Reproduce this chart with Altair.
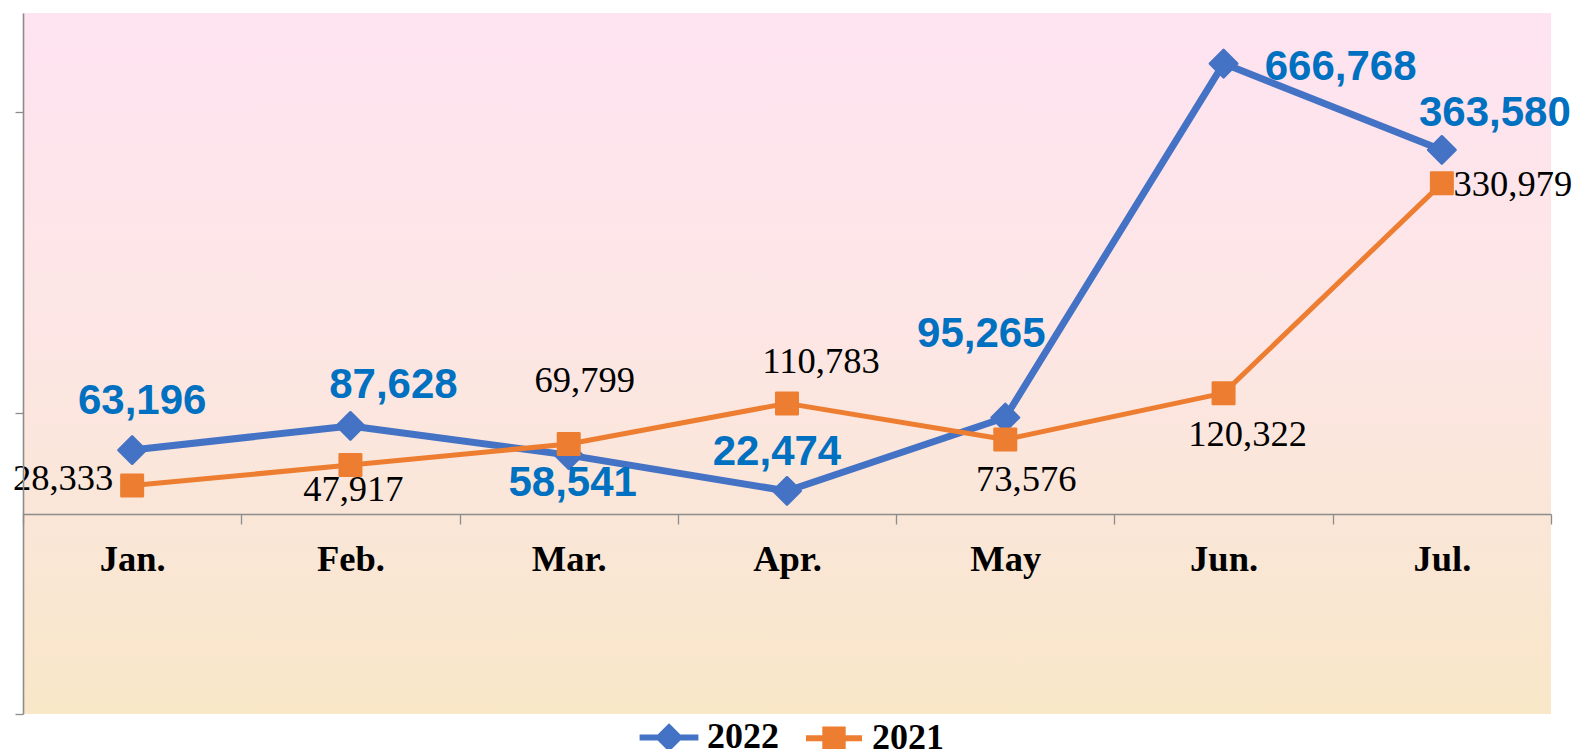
import altair as alt
import pandas as pd

# ---------------- data ----------------
months = ["Jan.", "Feb.", "Mar.", "Apr.", "May", "Jun.", "Jul."]
years = ["2022", "2021"]
# plotted marker heights in chart units
pos_2022 = [87.7, 95.7, 86.0, 74.1, 98.5, 216.1, 187.4]
pos_2021 = [75.9, 82.7, 89.7, 103.2, 91.2, 106.6, 176.3]
# data labels as printed on the chart
labels_2022 = ["63,196", "87,628", "58,541", "22,474", "95,265", "666,768", "363,580"]
labels_2021 = ["28,333", "47,917", "69,799", "110,783", "73,576", "120,322", "330,979"]
y_ticks = [0, 100, 200]
y_max = 232.9

# ---------------- styles ----------------
BLUE = "#4472C4"
ORANGE = "#ED7D31"
LABEL_BLUE = "#0070C0"
AXIS_GRAY = "#8c8c8c"
W, H = 1528, 701
# label offsets (dx, dy) in pixels, per point
off_2022 = [(10, -49), (43, -41), (4, 28), (-10, -39), (-24, -84), (117, 3), (53, -37)]
off_2021 = [(-69, -7), (3, 25), (16, -63), (34, -41), (21, 41), (24, 42), (71, 2)]

rows = []
for i, m in enumerate(months):
    rows.append({"month": m, "idx": i, "year": "2022", "value": pos_2022[i], "label": labels_2022[i]})
for i, m in enumerate(months):
    rows.append({"month": m, "idx": i, "year": "2021", "value": pos_2021[i], "label": labels_2021[i]})
df = pd.DataFrame(rows)

base = alt.Chart(df)

x_enc = alt.X(
    "month:N", sort=months, bandPosition=0.5,
    scale=alt.Scale(type="band", paddingInner=0, paddingOuter=0),
    axis=alt.Axis(
        title=None, offset=-200, zindex=1,
        domainColor=AXIS_GRAY, domainWidth=1.6,
        tickColor=AXIS_GRAY, tickWidth=1.3, tickSize=10, tickBand="extent",
        labelFont="Liberation Serif", labelFontSize=36.5, labelFontWeight="bold",
        labelColor="black", labelPadding=17, labelAngle=0,
    ),
)
y_enc = alt.Y(
    "value:Q",
    scale=alt.Scale(domain=[0, y_max], nice=False, zero=False),
    axis=alt.Axis(
        title=None, values=y_ticks, labels=False, grid=False, zindex=1,
        domainColor=AXIS_GRAY, domainWidth=1.6,
        tickColor=AXIS_GRAY, tickWidth=1.3, tickSize=8,
    ),
)

# legend symbols: line + marker
diamond_path = "M-2.1,0H2.1M0,-0.72L0.72,0L0,0.72L-0.72,0Z"
square_path = "M-2,0H2M-0.62,-0.62H0.62V0.62H-0.62Z"
legend_def = alt.Legend(
    title=None, orient="none", legendX=628, legendY=706, direction="horizontal",
    labelFont="Liberation Serif", labelFontSize=36, labelFontWeight="bold",
    labelColor="black", symbolSize=784, symbolStrokeWidth=6, symbolOpacity=1,
    labelOffset=20, columnPadding=15,
)
legend_layer = base.mark_point(filled=True, size=784, strokeWidth=6).encode(
    x=x_enc, y=y_enc,
    fill=alt.Fill("year:N", sort=years, scale=alt.Scale(domain=years, range=[BLUE, ORANGE]), legend=legend_def),
    stroke=alt.Stroke("year:N", sort=years, scale=alt.Scale(domain=years, range=[BLUE, ORANGE]), legend=legend_def),
    shape=alt.Shape("year:N", sort=years, scale=alt.Scale(domain=years, range=[diamond_path, square_path]), legend=legend_def),
)

# background gradient (drawn over the hidden legend marks)
grad = alt.LinearGradient(
    gradient="linear", x1=0, x2=0, y1=0, y2=1,
    stops=[
        alt.GradientStop(offset=0, color="#FEE3F1"),
        alt.GradientStop(offset=0.44, color="#FDE6E5"),
        alt.GradientStop(offset=0.75, color="#FAE6D6"),
        alt.GradientStop(offset=1, color="#F9E7C8"),
    ],
)
bg = alt.Chart(pd.DataFrame({"k": [0]})).mark_rect(fill=grad).encode(
    x=alt.value(0), x2=alt.value("width"), y=alt.value(0), y2=alt.value("height")
)

def series_layers(year, color, width, shape, size):
    d = base.transform_filter(alt.datum.year == year)
    line = d.mark_line(color=color, strokeWidth=width, strokeJoin="round", strokeCap="round").encode(
        x=x_enc, y=y_enc, order=alt.Order("idx:Q")
    )
    pts = d.mark_point(shape=shape, filled=True, size=size, color=color, stroke=color,
                       strokeWidth=2.5, strokeJoin="round", opacity=1).encode(x=x_enc, y=y_enc)
    return [line, pts]

layers = [legend_layer, bg]
layers += series_layers("2022", BLUE, 7, "diamond", 756)
layers += series_layers("2021", ORANGE, 5, "square", 462)

for i in range(len(months)):
    dx, dy = off_2022[i]
    layers.append(
        base.transform_filter((alt.datum.year == "2022") & (alt.datum.idx == i)).mark_text(
            dx=dx, dy=dy, font="Liberation Sans", fontSize=42, fontWeight="bold",
            color=LABEL_BLUE, align="center", baseline="middle",
        ).encode(x=x_enc, y=y_enc, text="label:N")
    )
for i in range(len(months)):
    dx, dy = off_2021[i]
    layers.append(
        base.transform_filter((alt.datum.year == "2021") & (alt.datum.idx == i)).mark_text(
            dx=dx, dy=dy, font="Liberation Serif", fontSize=36.5,
            color="black", align="center", baseline="middle",
        ).encode(x=x_enc, y=y_enc, text="label:N")
    )

chart = alt.layer(*layers).properties(
    width=W, height=H,
    padding={"left": 23, "top": 13, "right": 31, "bottom": 35},
    autosize=alt.AutoSizeParams(type="none"),
    background="white",
).configure_view(stroke=None)

chart.save("out.html", embed_options={"renderer": "svg", "actions": False})
